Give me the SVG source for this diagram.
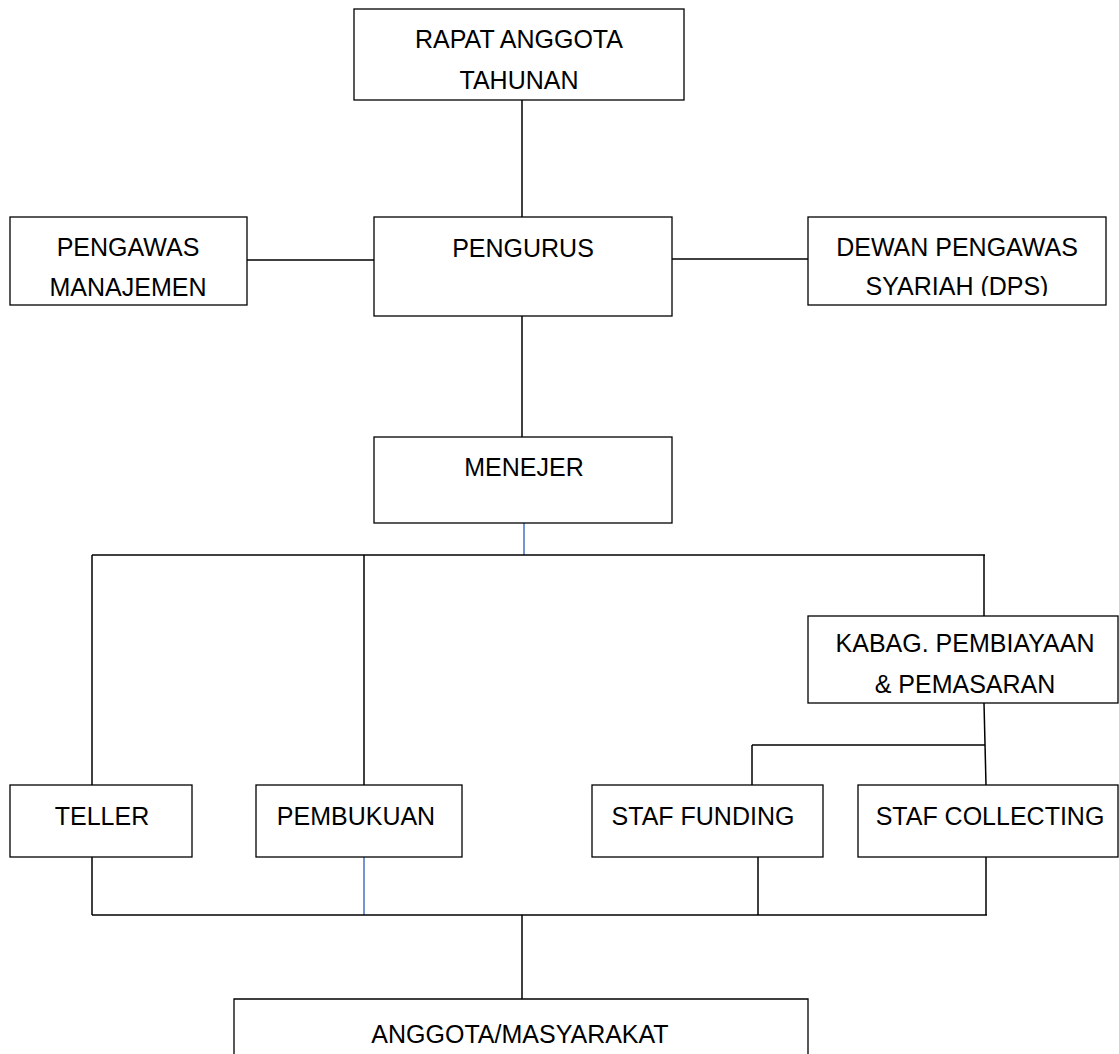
<svg xmlns="http://www.w3.org/2000/svg" width="1119" height="1054" viewBox="0 0 1119 1054">
<style>
.box{fill:#fff;stroke:#000;stroke-width:1.3}
.t{font-family:"Liberation Sans",Arial,sans-serif;font-size:25px;fill:#000;text-anchor:middle}
.c{stroke:#000;stroke-width:1.5;fill:none}
.b{stroke:#4472C4;stroke-width:1.5;fill:none}
</style>
<defs>
<clipPath id="clipPM"><rect x="10" y="217" width="237" height="80"/></clipPath>
<clipPath id="clipDPS"><rect x="808" y="217" width="298" height="79"/></clipPath>
</defs>
<rect width="1119" height="1054" fill="#fff"/>
<g id="connectors">
<line class="c" x1="522" y1="100" x2="522" y2="217"/>
<line class="c" x1="247" y1="260" x2="374" y2="260"/>
<line class="c" x1="672" y1="259" x2="808" y2="259"/>
<line class="c" x1="522" y1="316" x2="522" y2="437"/>
<line class="b" x1="524" y1="523" x2="524" y2="555"/>
<line class="c" x1="92" y1="555" x2="985" y2="555"/>
<line class="c" x1="92" y1="555" x2="92" y2="785"/>
<line class="c" x1="364" y1="555" x2="364" y2="785"/>
<line class="c" x1="984" y1="555" x2="984" y2="616"/>
<line class="c" x1="984" y1="703" x2="986" y2="785"/>
<line class="c" x1="752" y1="745" x2="985" y2="745"/>
<line class="c" x1="752" y1="745" x2="752" y2="785"/>
<line class="c" x1="92" y1="857" x2="92" y2="915"/>
<line class="b" x1="364" y1="857" x2="364" y2="915"/>
<line class="c" x1="758" y1="857" x2="758" y2="915"/>
<line class="c" x1="986" y1="857" x2="986" y2="915"/>
<line class="c" x1="92" y1="915" x2="987" y2="915"/>
<line class="c" x1="522" y1="915" x2="522" y2="999"/>
</g>
<g id="rapat">
<rect class="box" x="354" y="9" width="330" height="91"/>
<text class="t" x="519" y="48">RAPAT ANGGOTA</text>
<text class="t" x="519" y="89">TAHUNAN</text>
</g>
<g id="pengawas">
<rect class="box" x="10" y="217" width="237" height="88"/>
<text class="t" x="128" y="256">PENGAWAS</text>
<text class="t" x="128" y="296" clip-path="url(#clipPM)">MANAJEMEN</text>
</g>
<g id="pengurus">
<rect class="box" x="374" y="217" width="298" height="99"/>
<text class="t" x="523" y="257">PENGURUS</text>
</g>
<g id="dps">
<rect class="box" x="808" y="217" width="298" height="88"/>
<text class="t" x="957" y="256">DEWAN PENGAWAS</text>
<text class="t" x="957" y="295" clip-path="url(#clipDPS)">SYARIAH (DPS)</text>
</g>
<g id="menejer">
<rect class="box" x="374" y="437" width="298" height="86"/>
<text class="t" x="524" y="476">MENEJER</text>
</g>
<g id="kabag">
<rect class="box" x="808" y="616" width="310" height="87"/>
<text class="t" x="965" y="652">KABAG. PEMBIAYAAN</text>
<text class="t" x="965" y="693">&amp; PEMASARAN</text>
</g>
<g id="teller">
<rect class="box" x="10" y="785" width="182" height="72"/>
<text class="t" x="102" y="825">TELLER</text>
</g>
<g id="pembukuan">
<rect class="box" x="256" y="785" width="206" height="72"/>
<text class="t" x="356" y="825">PEMBUKUAN</text>
</g>
<g id="funding">
<rect class="box" x="592" y="785" width="231" height="72"/>
<text class="t" x="703" y="825">STAF FUNDING</text>
</g>
<g id="collecting">
<rect class="box" x="858" y="785" width="260" height="72"/>
<text class="t" x="990" y="825">STAF COLLECTING</text>
</g>
<g id="anggota">
<path class="box" d="M234,1054 V999 H808 V1054"/>
<text class="t" x="520" y="1043">ANGGOTA/MASYARAKAT</text>
</g>
</svg>
